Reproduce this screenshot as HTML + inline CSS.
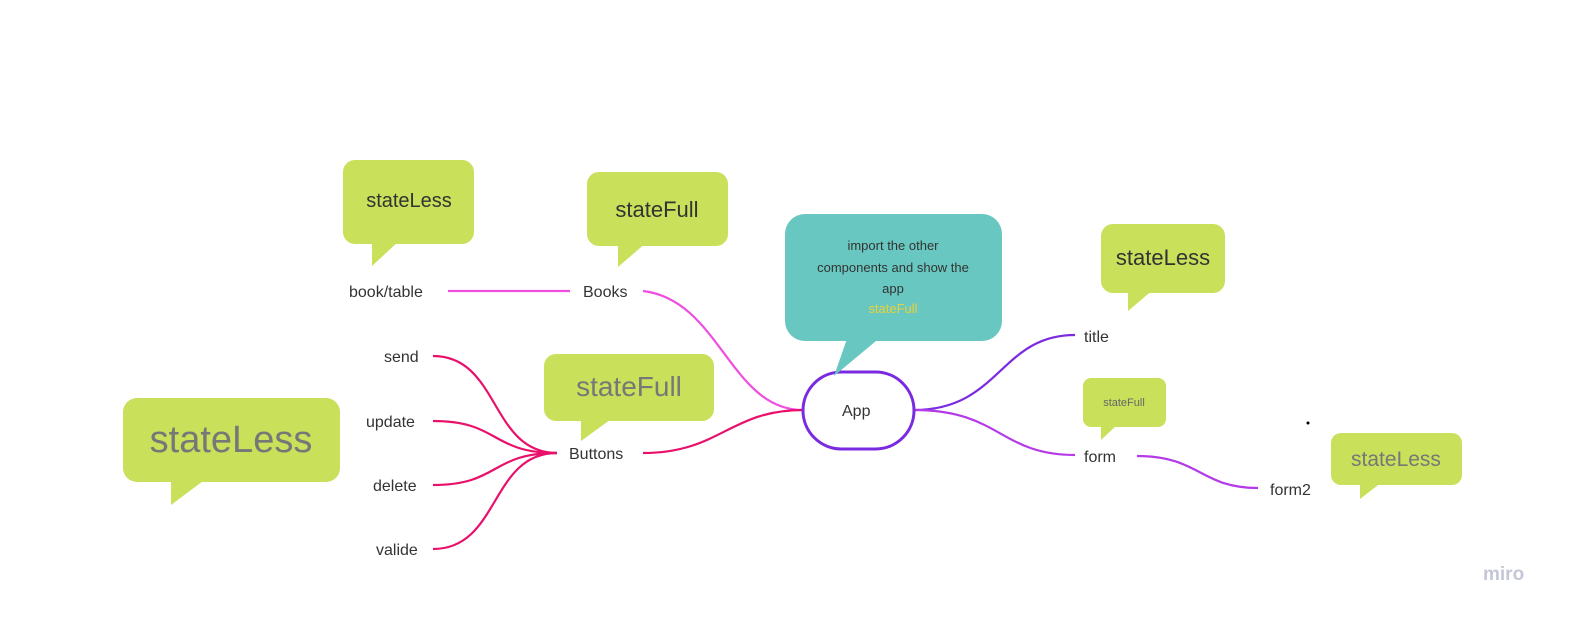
<!DOCTYPE html>
<html><head><meta charset="utf-8"><style>
body{margin:0;background:#fff}
svg{display:block}
text{font-family:"Liberation Sans",sans-serif}
</style></head><body>
<svg width="1594" height="627" viewBox="0 0 1594 627">
<g fill="none" stroke-width="2.2">
<path d="M448 291H570" stroke="#ef4fdf"/>
<path d="M643 291C720 300 730 410 803 410" stroke="#ef4fdf"/>
<path d="M643 453C720 453 730 410 803 410" stroke="#e8106a"/>
<path d="M914 410C1000 410 1000 335 1075 335" stroke="#7b2be0"/>
<path d="M914 410C1000 410 1000 455 1075 455" stroke="#b43ae8"/>
<path d="M1137 456C1200 456 1200 488 1258 488" stroke="#b43ae8"/>
<g stroke="#e8106a">
<path d="M557 453C490 453 500 356 433 356"/>
<path d="M557 453C490 453 500 421 433 421"/>
<path d="M557 453C490 453 500 485 433 485"/>
<path d="M557 453C490 453 500 549 433 549"/>
</g>
</g>
<rect x="803" y="372" width="111" height="77" rx="38.5" fill="#fff" stroke="#7a2be2" stroke-width="3"/>
<g fill="#c8e05a">
<rect x="343" y="160" width="131" height="84" rx="12"/><path d="M372 240V266L400 240Z"/>
<rect x="587" y="172" width="141" height="74" rx="12"/><path d="M618 242V267L647 242Z"/>
<rect x="1101" y="224" width="124" height="69" rx="12"/><path d="M1128 289V311L1154 289Z"/>
<rect x="1083" y="378" width="83" height="49" rx="8"/><path d="M1101 424V440L1118 424Z"/>
<rect x="1331" y="433" width="131" height="52" rx="10"/><path d="M1360 482V499L1382 482Z"/>
<rect x="544" y="354" width="170" height="67" rx="12"/><path d="M581 417V441L614 417Z"/>
<rect x="123" y="398" width="217" height="84" rx="14"/><path d="M171 478V505L207 478Z"/>
</g>
<rect x="785" y="214" width="217" height="127" rx="20" fill="#68c7c0"/>
<path d="M848 336L834 376L882 336Z" fill="#68c7c0"/>
<g text-anchor="middle" font-size="13" fill="#333">
<text x="893" y="250">import the other</text>
<text x="893" y="272">components and show the</text>
<text x="893" y="293">app</text>
<text x="893" y="313" fill="#e8d23a">stateFull</text>
</g>
<g text-anchor="middle">
<text x="409" y="207" font-size="20" fill="#333">stateLess</text>
<text x="657" y="217" font-size="22" fill="#333">stateFull</text>
<text x="1163" y="265" font-size="22" fill="#333">stateLess</text>
<text x="1124" y="406" font-size="11" fill="#666">stateFull</text>
<text x="1396" y="466" font-size="21" fill="#777">stateLess</text>
<text x="629" y="396" font-size="28" fill="#777">stateFull</text>
<text x="231" y="452" font-size="38" fill="#777">stateLess</text>
</g>
<g font-size="16" fill="#333">
<text x="349" y="297">book/table</text>
<text x="583" y="297">Books</text>
<text x="384" y="362">send</text>
<text x="366" y="427">update</text>
<text x="373" y="491">delete</text>
<text x="376" y="555">valide</text>
<text x="569" y="459">Buttons</text>
<text x="842" y="416">App</text>
<text x="1084" y="342">title</text>
<text x="1084" y="462">form</text>
<text x="1270" y="495">form2</text>
</g>
<circle cx="1308" cy="423" r="1.5" fill="#000"/>
<text x="1483" y="580" font-size="19" font-weight="bold" fill="#c4c7d8">miro</text>
</svg>
</body></html>
